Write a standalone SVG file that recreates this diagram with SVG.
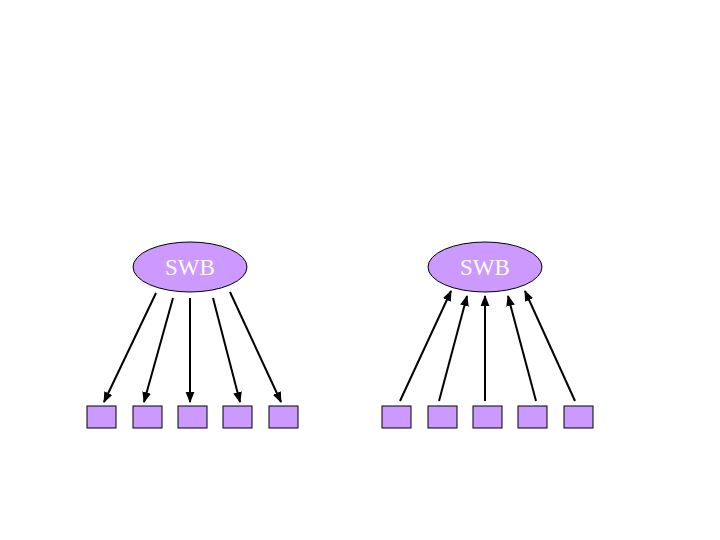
<svg xmlns="http://www.w3.org/2000/svg" width="720" height="540" viewBox="0 0 720 540">
<style>
.n{fill:#cc99ff;stroke:#000;stroke-width:1}
.t{font-family:"Liberation Serif",serif;font-size:23px;fill:#fff;text-anchor:middle}
.c line{stroke:#000;stroke-width:2;marker-end:url(#a)}
</style>
<defs><marker id="a" viewBox="0 0 10 10" refX="9" refY="5" markerWidth="5.5" markerHeight="5.5" orient="auto" markerUnits="strokeWidth"><path d="M0,1 L10,5 L0,9 z" fill="#000"/></marker></defs>
<rect width="720" height="540" fill="#fff"/>
<g id="swb1"><ellipse class="n" cx="190" cy="267" rx="57" ry="25"/><text class="t" x="190" y="275">SWB</text></g>
<g id="swb2"><ellipse class="n" cx="485" cy="267" rx="57" ry="25"/><text class="t" x="485" y="275">SWB</text></g>
<g id="l1"><rect class="n" x="87" y="406" width="29" height="22"/></g>
<g id="l2"><rect class="n" x="133" y="406" width="29" height="22"/></g>
<g id="l3"><rect class="n" x="178" y="406" width="29" height="22"/></g>
<g id="l4"><rect class="n" x="223" y="406" width="29" height="22"/></g>
<g id="l5"><rect class="n" x="269" y="406" width="29" height="22"/></g>
<g id="r1"><rect class="n" x="382" y="406" width="29" height="22"/></g>
<g id="r2"><rect class="n" x="428" y="406" width="29" height="22"/></g>
<g id="r3"><rect class="n" x="473" y="406" width="29" height="22"/></g>
<g id="r4"><rect class="n" x="518" y="406" width="29" height="22"/></g>
<g id="r5"><rect class="n" x="564" y="406" width="29" height="22"/></g>
<g class="c" id="connectors">
<line x1="156" y1="293" x2="104" y2="402"/>
<line x1="173" y1="298" x2="144" y2="402"/>
<line x1="190" y1="298" x2="190" y2="402"/>
<line x1="213" y1="298" x2="240" y2="402"/>
<line x1="230" y1="292" x2="281" y2="402"/>
<line x1="400" y1="401" x2="451" y2="291"/>
<line x1="439" y1="401" x2="467" y2="296"/>
<line x1="485" y1="401" x2="485" y2="296"/>
<line x1="536" y1="401" x2="508" y2="296"/>
<line x1="575" y1="401" x2="525" y2="291"/>
</g>
</svg>
